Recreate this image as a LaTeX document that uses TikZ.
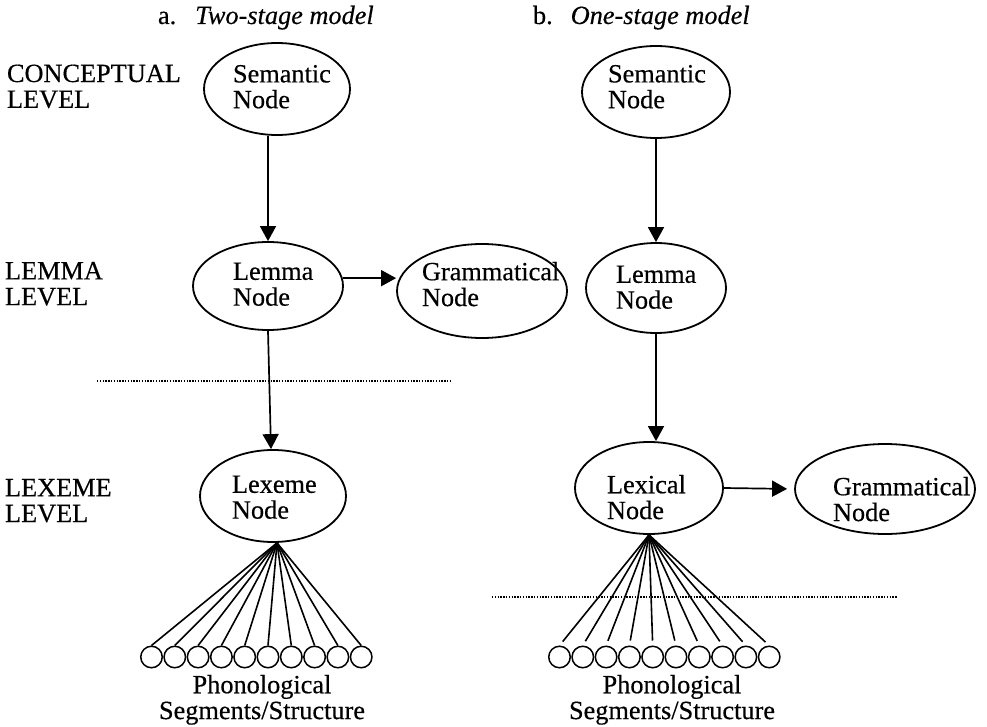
\documentclass[tikz,border=0pt]{standalone}
\usepackage{fontspec}
\setmainfont{Liberation Serif}[UprightFeatures={FakeBold=0.4},ItalicFeatures={FakeBold=0.4}]
\usetikzlibrary{shapes.geometric,arrows.meta,calc}
\begin{document}
\begin{tikzpicture}[x=1pt,y=-1pt,
  txt/.style={font=\fontsize{26.3}{25.8}\selectfont, inner sep=0pt, outer sep=0pt, align=left},
  ell/.style={draw, ellipse, line width=1.8pt, inner sep=0pt},
  arr/.style={line width=1.7pt, -{Triangle[length=15pt,width=16pt]}},
  conn/.style={line width=1.6pt},
  seg/.style={draw, circle, line width=1.5pt, minimum size=21.5pt, inner sep=0pt},
  sepline/.style={line width=1.3pt, dash pattern=on 1.3pt off 1.5pt}]
\useasboundingbox (0,0) rectangle (987,727);

% titles
\node[txt, anchor=base west] (tA) at (158,24) {a.\hspace{19pt}\textit{Two-stage model}};
\node[txt, anchor=base west] (tB) at (533,24) {b.\hspace{18pt}\textit{One-stage model}};

% level labels
\node[txt, anchor=north west] (lvC) at (7,64.6) {CONCEPTUAL\\LEVEL};
\node[txt, anchor=north west] (lvL) at (5,262) {LEMMA\\LEVEL};
\node[txt, anchor=north west] (lvX) at (5,479) {LEXEME\\LEVEL};

% model a
\node[ell, minimum width=146pt, minimum height=92pt] (semA) at (277,89) {};
\node[txt, anchor=north west] (semAt) at (233,65) {Semantic\\Node};
\node[ell, minimum width=150pt, minimum height=88pt] (lemA) at (268,286) {};
\node[txt, anchor=north west] (lemAt) at (233,262.6) {Lemma\\Node};
\node[ell, minimum width=170pt, minimum height=94pt] (gramA) at (482,291) {};
\node[txt, anchor=north west] (gramAt) at (422,262) {Grammatical\\Node};
\node[ell, minimum width=146pt, minimum height=92pt] (lexA) at (273,496) {};
\node[txt, anchor=north west] (lexAt) at (232,475.6) {Lexeme\\Node};

\draw[arr] (semA.south -| lemA.north) -- (lemA.north);
\draw[arr] (lemA.6) -- (lemA.6 -| gramA.west);
\draw[arr] (lemA.south) -- ([xshift=-2pt]lexA.north);

\coordinate (dA1) at (97,381);
\coordinate (dA2) at (452,381);
\draw[sepline] (dA1) -- (dA2);

\foreach \i in {0,...,9}
  \node[seg] (pa\i) at ({151.5+23.3*\i},657) {};
\foreach \i in {0,...,9}
  \draw[conn] ([xshift=4pt]lexA.south) -- (pa\i.north);
\node[txt, align=center, anchor=north] (phA) at (262,675) {Phonological\\Segments/Structure};

% model b
\node[ell, minimum width=148pt, minimum height=92pt] (semB) at (656,92) {};
\node[txt, anchor=north west] (semBt) at (608,65) {Semantic\\Node};
\node[ell, minimum width=140pt, minimum height=90pt] (lemB) at (656,288) {};
\node[txt, anchor=north west] (lemBt) at (616,265.6) {Lemma\\Node};
\node[ell, minimum width=148pt, minimum height=92pt] (lexB) at (649,488) {};
\node[txt, anchor=north west] (lexBt) at (607,475) {Lexical\\Node};
\node[ell, minimum width=180pt, minimum height=90pt] (gramB) at (885,489) {};
\node[txt, anchor=north west] (gramBt) at (833,477) {Grammatical\\Node};

\draw[arr] (semB.south) -- (semB.south |- lemB.north);
\draw[arr] (lemB.south) -- (lemB.south |- lexB.north);
\draw[arr, shorten >=7pt] (lexB.east) -- (gramB.west);

\coordinate (dB1) at (492,597);
\coordinate (dB2) at (897,597);
\draw[sepline] (dB1) -- (dB2);

\foreach \i in {0,...,9}
  \node[seg] (pb\i) at ({559.5+23.3*\i},657) {};
\foreach \i in {0,...,9}
  \draw[conn, shorten >=5pt] (lexB.south) -- (pb\i.north);
\node[txt, align=center, anchor=north] (phB) at (672,675) {Phonological\\Segments/Structure};
\end{tikzpicture}
\end{document}
